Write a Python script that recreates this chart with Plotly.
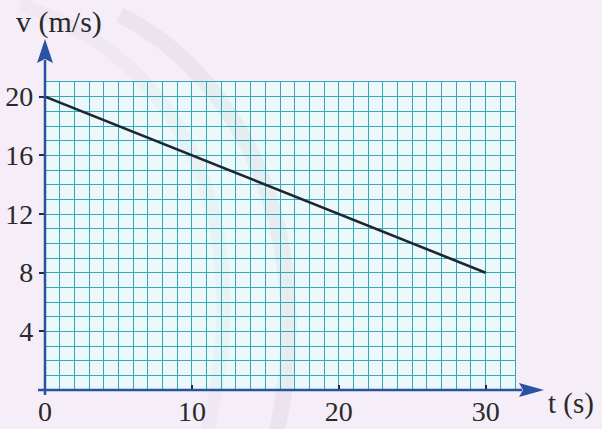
import plotly.graph_objects as go

# ---- data ----
t_values = [0, 30]
v_values = [20, 8]
x_tick_vals = [0, 10, 20, 30]
x_tick_text = ["0", "10", "20", "30"]
y_tick_vals = [4, 8, 12, 16, 20]
y_tick_text = ["4", "8", "12", "16", "20"]
x_title = "t (s)"
y_title = "v (m/s)"

W, H = 602, 429
ML, MR, MT, MB = 45, 87, 82, 39
PW, PH = W - ML - MR, H - MT - MB


def px(x, y):
    """pixel -> paper coords"""
    return (x - ML) / PW, 1 - (y - MT) / PH


BLUE = "#2a52a3"
GRID = "#34a8b8"
FONT = "Liberation Serif"

fig = go.Figure()
fig.add_trace(go.Scatter(x=t_values, y=v_values, mode="lines",
                         line=dict(color="#1d2733", width=2.6),
                         hoverinfo="skip", showlegend=False))

axis_common = dict(showgrid=True, gridcolor=GRID, gridwidth=1.4, zeroline=False,
                   showline=True, mirror=True, linecolor=GRID, linewidth=1.4,
                   automargin=False,
                   tickfont=dict(family=FONT, size=28, color="#2a2a2a"),
                   tickcolor="#1d2a4a", tickwidth=2, ticklen=5)

fig.update_xaxes(range=[0, 32], tickmode="array", tickvals=x_tick_vals, ticktext=x_tick_text,
                 ticks="inside", ticklabelstandoff=-4,
                 minor=dict(dtick=1, showgrid=True, gridcolor=GRID, gridwidth=1.4),
                 **axis_common)
fig.update_yaxes(range=[0, 21], tickmode="array", tickvals=y_tick_vals, ticktext=y_tick_text,
                 ticks="outside", minor=dict(dtick=1, showgrid=True, gridcolor=GRID, gridwidth=1.4),
                 **axis_common)

shapes = []


def path_px(cmds):
    out = []
    for c in cmds:
        if isinstance(c, str):
            out.append(c)
        else:
            a, b = px(*c)
            out.append(f"{a:.4f},{b:.4f}")
    return " ".join(out)


# faint watermark swooshes
shapes.append(dict(type="path", xref="paper", yref="paper", layer="below",
                   path=path_px(["M", (120, 15), "C", (250, 80), (320, 250), (275, 440)]),
                   line=dict(color="rgba(140,140,150,0.09)", width=16)))
shapes.append(dict(type="path", xref="paper", yref="paper", layer="below",
                   path=path_px(["M", (20, 5), "C", (190, 60), (260, 230), (205, 440)]),
                   line=dict(color="rgba(140,140,150,0.05)", width=14)))

# axes lines
x0, y0 = px(38, 390)
x1, _ = px(522, 390)
shapes.append(dict(type="line", xref="paper", yref="paper", x0=x0, y0=y0, x1=x1, y1=y0,
                   line=dict(color=BLUE, width=2.5)))
ax0, ay0 = px(45, 395)
_, ay1 = px(45, 60)
shapes.append(dict(type="line", xref="paper", yref="paper", x0=ax0, y0=ay0, x1=ax0, y1=ay1,
                   line=dict(color=BLUE, width=2.5)))
# arrowheads
shapes.append(dict(type="path", xref="paper", yref="paper", fillcolor=BLUE, line=dict(width=0),
                   path=path_px(["M", (519, 383), "L", (544, 390), "L", (519, 397), "L", (523, 390), "Z"])))
shapes.append(dict(type="path", xref="paper", yref="paper", fillcolor=BLUE, line=dict(width=0),
                   path=path_px(["M", (37, 63), "L", (45, 39), "L", (53, 63), "L", (45, 59), "Z"])))

ann = []
tx, ty = px(546, 403)
ann.append(dict(x=tx, y=ty, xref="paper", yref="paper", text=x_title, showarrow=False,
                xanchor="left", yanchor="middle",
                font=dict(family=FONT, size=29, color="#2a2a2a")))
vx, vy = px(14, 22)
ann.append(dict(x=vx, y=vy, xref="paper", yref="paper", text=y_title, showarrow=False,
                xanchor="left", yanchor="middle",
                font=dict(family=FONT, size=30, color="#2a2a2a")))

fig.update_layout(width=W, height=H, margin=dict(l=ML, r=MR, t=MT, b=MB),
                  paper_bgcolor="#f5edf7", plot_bgcolor="#edf8fa",
                  shapes=shapes, annotations=ann, showlegend=False)

fig.write_html("out.html", config={"displayModeBar": False},
               post_script="document.body.style.margin='0';document.body.style.overflow='hidden';"
                           "document.body.style.background='#f5edf7';")
